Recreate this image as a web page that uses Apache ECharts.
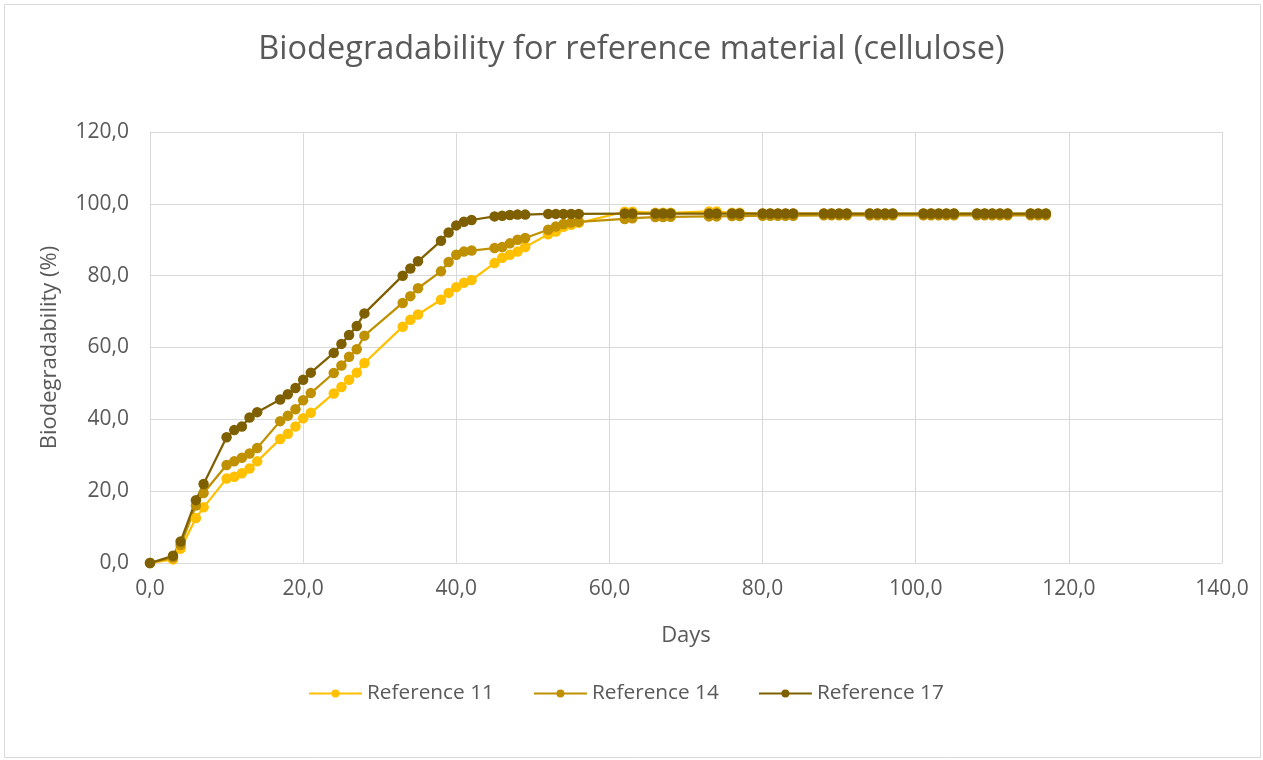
<!DOCTYPE html>
<html>
<head>
<meta charset="utf-8">
<script src="https://cdn.jsdelivr.net/npm/echarts@6/dist/echarts.min.js"></script>
<style>
html,body{margin:0;padding:0;background:#fff;}
#chart{width:1263px;height:760px;}
</style>
</head>
<body>
<div id="chart"></div>
<script>
const titleText = "Biodegradability for reference material (cellulose)";
const xAxisName = "Days";
const yAxisName = "Biodegradability (%)";
const seriesNames = ["Reference 11", "Reference 14", "Reference 17"];

const days = [0,3,4,6,7,10,11,12,13,14,17,18,19,20,21,24,25,26,27,28,33,34,35,38,39,40,41,42,45,46,47,48,49,52,53,54,55,56,62,63,66,67,68,73,74,76,77,80,81,82,83,84,88,89,90,91,94,95,96,97,101,102,103,104,105,108,109,110,111,112,115,116,117];

const ref11 = [0,1,4,12.5,15.5,23.5,24,25,26.3,28.3,34.5,36,38,40.3,41.8,47.2,49,51,53,55.7,65.8,67.7,69.2,73.3,75.2,76.8,78,78.8,83.5,85,85.8,86.7,88,91.5,92.3,93.6,94.2,94.7,
  97.8,97.8,97.5,97.5,97.5,97.9,97.9,97.5,97.5,97.3,97.3,97.3,97.3,97.3,97.3,97.3,97.3,97.3,97.3,97.3,97.3,97.3,97.3,97.3,97.3,97.3,97.3,97.3,97.3,97.3,97.3,97.3,97.3,97.3,97.3];

const ref14 = [0,1.5,5,16,19.5,27.3,28.3,29.3,30.5,32,39.5,41,42.8,45.3,47.3,52.9,55,57.4,59.5,63.3,72.4,74.3,76.5,81.2,83.8,85.8,86.7,87,87.7,88,89,90,90.5,92.8,93.7,94.4,94.8,95,
  95.8,96,96.3,96.3,96.4,96.5,96.5,96.6,96.6,96.7,96.7,96.7,96.7,96.7,96.8,96.8,96.8,96.8,96.8,96.8,96.8,96.8,96.8,96.8,96.8,96.8,96.8,96.8,96.8,96.8,96.8,96.8,96.8,96.8,96.8];

const ref17 = [0,2,6,17.5,22,35,37,38,40.5,42,45.5,47,48.7,51,53,58.5,61,63.5,66,69.5,80,82,84,89.7,92,94,95,95.5,96.5,96.7,96.9,97,97,97.2,97.2,97.2,97.2,97.2,
  97.3,97.3,97.3,97.3,97.3,97.3,97.3,97.3,97.3,97.3,97.3,97.3,97.3,97.3,97.3,97.3,97.3,97.3,97.3,97.3,97.3,97.3,97.3,97.3,97.3,97.3,97.3,97.3,97.3,97.3,97.3,97.3,97.3,97.3,97.3];

const colors = ["#FFC000", "#BF9000", "#7F6000"];
const allValues = [ref11, ref14, ref17];

const fmt = v => v.toFixed(1).replace('.', ',');
const font = "'Open Sans', 'Noto Sans', sans-serif";

const chart = echarts.init(document.getElementById('chart'), null, {renderer: 'canvas'});
chart.setOption({
  animation: false,
  backgroundColor: '#ffffff',
  color: colors,
  title: {
    text: titleText,
    left: 'center',
    top: 28,
    textStyle: {fontFamily: font, fontSize: 32.5, fontWeight: 'normal', color: '#595959'}
  },
  graphic: [{
    type: 'rect',
    shape: {x: 4.5, y: 4.5, width: 1256, height: 753},
    style: {fill: 'none', stroke: '#d9d9d9', lineWidth: 1},
    silent: true
  }],
  legend: {
    data: seriesNames,
    top: 678,
    left: 303,
    itemWidth: 53,
    itemHeight: 10,
    itemGap: 39,
    textStyle: {fontFamily: font, fontSize: 20.8, color: '#595959', padding: [0, 0, 0, 0]}
  },
  grid: {left: 150, right: 41, top: 132, bottom: 197, containLabel: false},
  xAxis: {
    type: 'value',
    min: 0, max: 140, interval: 20,
    name: xAxisName,
    nameLocation: 'middle',
    nameGap: 62,
    nameTextStyle: {fontFamily: font, fontSize: 22, color: '#595959'},
    axisLine: {show: true, lineStyle: {color: '#d9d9d9', width: 1}},
    axisTick: {show: false},
    axisLabel: {formatter: fmt, fontFamily: font, fontSize: 21, color: '#595959', margin: 16},
    splitLine: {show: true, lineStyle: {color: '#d9d9d9', width: 1}}
  },
  yAxis: {
    type: 'value',
    min: 0, max: 120, interval: 20,
    name: yAxisName,
    nameLocation: 'middle',
    nameGap: 89,
    nameTextStyle: {fontFamily: font, fontSize: 22, color: '#595959'},
    axisLine: {show: true, lineStyle: {color: '#d9d9d9', width: 1}},
    axisTick: {show: false},
    axisLabel: {formatter: fmt, fontFamily: font, fontSize: 21, color: '#595959', margin: 21},
    splitLine: {show: true, lineStyle: {color: '#d9d9d9', width: 1}}
  },
  series: seriesNames.map((name, i) => ({
    name: name,
    type: 'line',
    data: days.map((d, j) => [d, allValues[i][j]]),
    symbol: 'circle',
    symbolSize: 10.5,
    showAllSymbol: true,
    lineStyle: {width: 2.25, color: colors[i]},
    itemStyle: {color: colors[i]}
  }))
});
</script>
</body>
</html>
